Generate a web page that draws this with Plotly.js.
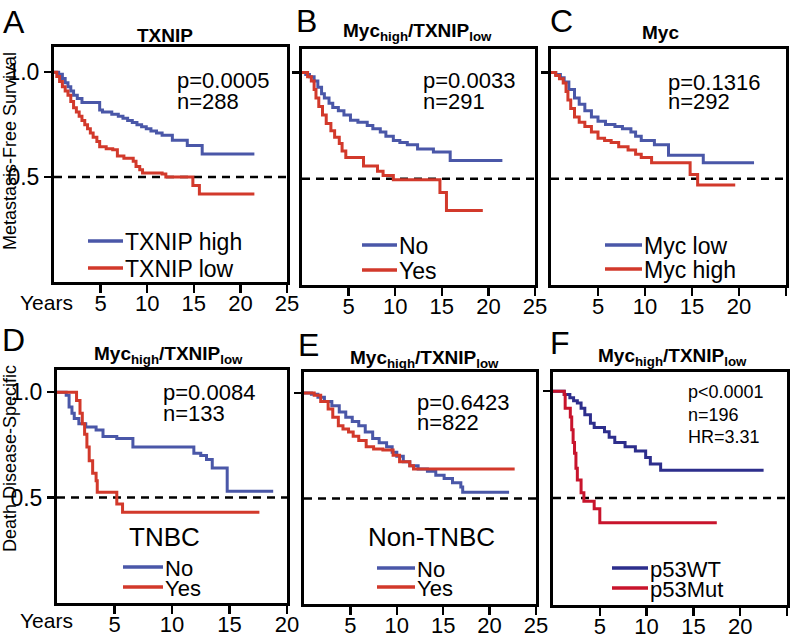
<!DOCTYPE html>
<html><head><meta charset="utf-8">
<script src="https://cdn.plot.ly/plotly-3.0.1.min.js"></script>
<style>html,body{margin:0;padding:0;background:#fff}#chart{width:796px;height:640px}</style>
</head><body><div id="chart"></div>
<script>
// ---------- DATA ----------
const ticksTo25 = [5, 10, 15, 20, 25];
const ticksTo20 = [5, 10, 15, 20];
const yTickVals = [0.5, 1.0];
const yTickText = ['0.5', '1.0'];

// A: TXNIP
const A_high_t = [0, 0.5, 0.9, 1.2, 1.5, 1.8, 2.1, 2.5, 3.0, 4.9, 5.2, 6.2, 6.9, 7.4, 7.9, 8.4, 8.9, 9.4, 9.9, 10.4, 11.0, 11.6, 12.7, 14.3, 15.9, 21.5];
const A_high_s = [1, 0.99, 0.97, 0.95, 0.93, 0.91, 0.89, 0.875, 0.855, 0.82, 0.81, 0.80, 0.79, 0.78, 0.77, 0.76, 0.75, 0.74, 0.73, 0.72, 0.71, 0.70, 0.675, 0.65, 0.61, 0.61];
const A_low_t = [0, 0.3, 0.6, 0.9, 1.2, 1.5, 1.8, 2.1, 2.4, 2.7, 3.0, 3.3, 3.6, 3.9, 4.2, 4.6, 4.9, 5.6, 6.3, 6.8, 7.5, 8.5, 8.8, 9.2, 9.5, 11.6, 12.0, 14.9, 15.6, 21.5];
const A_low_s = [1, 0.98, 0.955, 0.93, 0.91, 0.89, 0.86, 0.83, 0.81, 0.79, 0.77, 0.75, 0.73, 0.71, 0.69, 0.67, 0.645, 0.635, 0.63, 0.60, 0.59, 0.575, 0.55, 0.535, 0.52, 0.515, 0.50, 0.46, 0.42, 0.42];

// B: Myc_high/TXNIP_low
const B_no_t = [0, 0.4, 0.8, 1.3, 1.7, 2.1, 2.4, 2.9, 3.3, 3.9, 4.5, 5.2, 6.0, 7.0, 7.6, 8.4, 9.0, 9.8, 10.5, 11.3, 12.4, 14.1, 15.9, 21.5];
const B_no_s = [1, 0.99, 0.98, 0.96, 0.93, 0.90, 0.88, 0.855, 0.835, 0.82, 0.80, 0.775, 0.765, 0.75, 0.735, 0.72, 0.70, 0.68, 0.67, 0.66, 0.64, 0.625, 0.585, 0.585];
const B_yes_t = [0, 0.6, 1.0, 1.3, 1.5, 1.8, 2.2, 2.6, 3.1, 3.5, 4.0, 4.3, 4.7, 6.6, 8.1, 8.7, 9.8, 14.8, 15.5, 19.4];
const B_yes_s = [1, 0.98, 0.96, 0.92, 0.88, 0.84, 0.80, 0.76, 0.725, 0.695, 0.665, 0.63, 0.60, 0.56, 0.535, 0.515, 0.495, 0.435, 0.35, 0.35];

// C: Myc
const C_low_t = [0, 0.5, 1.0, 1.4, 1.9, 2.5, 3.0, 3.6, 4.3, 5.0, 5.8, 6.8, 7.6, 8.5, 9.0, 9.6, 11.0, 12.5, 16.2, 21.6];
const C_low_s = [1, 0.99, 0.975, 0.955, 0.92, 0.88, 0.85, 0.82, 0.79, 0.77, 0.755, 0.745, 0.735, 0.72, 0.70, 0.68, 0.66, 0.61, 0.575, 0.575];
const C_high_t = [0, 0.5, 0.9, 1.3, 1.6, 1.8, 2.1, 2.5, 3.0, 3.6, 4.3, 5.0, 5.7, 6.4, 7.2, 8.2, 9.0, 9.6, 10.7, 14.8, 15.6, 19.6];
const C_high_s = [1, 0.985, 0.97, 0.95, 0.91, 0.87, 0.83, 0.79, 0.765, 0.745, 0.72, 0.69, 0.68, 0.67, 0.65, 0.635, 0.615, 0.60, 0.575, 0.52, 0.47, 0.47];

// D: TNBC
const D_no_t = [0, 0.8, 1.05, 1.3, 1.5, 1.9, 2.5, 3.4, 4.0, 5.2, 6.6, 11.9, 12.5, 13.0, 13.5, 14.8, 18.8];
const D_no_s = [1, 0.985, 0.93, 0.90, 0.875, 0.85, 0.835, 0.82, 0.79, 0.78, 0.74, 0.71, 0.70, 0.68, 0.64, 0.53, 0.53];
const D_yes_t = [0, 1.7, 2.0, 2.2, 2.4, 2.6, 2.8, 3.1, 3.4, 3.5, 5.2, 5.7, 17.6];
const D_yes_s = [1, 0.96, 0.90, 0.85, 0.80, 0.74, 0.675, 0.615, 0.58, 0.525, 0.47, 0.43, 0.43];

// E: Non-TNBC
const E_no_t = [0, 0.8, 1.5, 2.2, 3.0, 3.8, 4.5, 5.2, 5.9, 6.6, 7.4, 8.1, 8.9, 9.5, 10.0, 10.7, 11.4, 12.3, 13.3, 14.2, 15.1, 16.0, 16.9, 17.1, 22.1];
const E_no_s = [1, 0.995, 0.98, 0.96, 0.94, 0.91, 0.885, 0.865, 0.845, 0.815, 0.785, 0.765, 0.745, 0.72, 0.70, 0.675, 0.655, 0.64, 0.63, 0.61, 0.595, 0.575, 0.555, 0.53, 0.53];
const E_yes_t = [0, 1.1, 1.8, 2.6, 3.1, 3.7, 4.2, 4.8, 5.3, 5.9, 6.7, 7.5, 8.5, 9.6, 10.3, 11.4, 11.8, 22.7];
const E_yes_s = [1, 0.99, 0.96, 0.925, 0.885, 0.845, 0.83, 0.815, 0.795, 0.775, 0.745, 0.735, 0.73, 0.705, 0.675, 0.655, 0.64, 0.64];

// F: p53
const F_wt_t = [0, 1.2, 1.8, 2.2, 2.6, 3.0, 3.4, 4.0, 4.4, 5.5, 6.0, 6.6, 7.7, 8.8, 9.9, 10.4, 11.5, 22.5];
const F_wt_s = [1, 0.985, 0.97, 0.955, 0.945, 0.92, 0.89, 0.85, 0.83, 0.81, 0.785, 0.76, 0.74, 0.72, 0.69, 0.66, 0.63, 0.63];
const F_mut_t = [0, 1.2, 1.3, 1.85, 2.0, 2.15, 2.3, 2.45, 2.6, 3.0, 3.3, 4.4, 5.0, 17.5];
const F_mut_s = [1, 0.985, 0.92, 0.88, 0.82, 0.76, 0.71, 0.64, 0.585, 0.525, 0.485, 0.45, 0.385, 0.385];

const panelLetters = ['A', 'B', 'C', 'D', 'E', 'F'];
const panelTitles = ['TXNIP', 'Myc<sub>high</sub>/TXNIP<sub>low</sub>', 'Myc',
  'Myc<sub>high</sub>/TXNIP<sub>low</sub>', 'Myc<sub>high</sub>/TXNIP<sub>low</sub>', 'Myc<sub>high</sub>/TXNIP<sub>low</sub>'];
const statTexts = [['p=0.0005', 'n=288'], ['p=0.0033', 'n=291'], ['p=0.1316', 'n=292'],
  ['p=0.0084', 'n=133'], ['p=0.6423', 'n=822'], ['p<0.0001', 'n=196', 'HR=3.31']];
const legendNames = [['TXNIP high', 'TXNIP low'], ['No', 'Yes'], ['Myc low', 'Myc high'],
  ['No', 'Yes'], ['No', 'Yes'], ['p53WT', 'p53Mut']];
const subgroupLabels = ['', '', '', 'TNBC', 'Non-TNBC', ''];
const yTitles = ['Metastasis-Free Survival', 'Death Disease-Specific'];

// ---------- LAYOUT ----------
const W = 796, H = 640;
const PX = v => v / W, PY = v => 1 - v / H;
const FONT = 'Liberation Sans, Arial, Helvetica, sans-serif';
const BLUE = '#4a57a8', RED = '#d2392b', NAVY = '#2d2e8c', CRIMSON = '#c8142c';

const series = [
  [[A_high_t, A_high_s, BLUE], [A_low_t, A_low_s, RED]],
  [[B_no_t, B_no_s, BLUE], [B_yes_t, B_yes_s, RED]],
  [[C_low_t, C_low_s, BLUE], [C_high_t, C_high_s, RED]],
  [[D_no_t, D_no_s, BLUE], [D_yes_t, D_yes_s, RED]],
  [[E_no_t, E_no_s, BLUE], [E_yes_t, E_yes_s, RED]],
  [[F_wt_t, F_wt_s, NAVY], [F_mut_t, F_mut_s, CRIMSON]]
];

// geometry per panel (pixels)
const geo = [
  {x: [54, 287], y: [47, 282], yr: [0, 1.12], xr: [0, 25], xt: ticksTo25, lab: true,
   letter: [14, 22], title: [165, 35], stat: [177, 80, 21], leg: [88, 123, 241, 268, 23]},
  {x: [302, 535], y: [49, 285], yr: [0, 1.11], xr: [0, 25], xt: ticksTo25, lab: false,
   letter: [306, 21], title: [417, 32], stat: [423, 80, 21], leg: [362, 397, 245, 270, 23]},
  {x: [551, 786], y: [49, 285], yr: [0, 1.11], xr: [0, 25], xt: ticksTo25, lab: false,
   letter: [561, 21], title: [660, 33], stat: [668, 82, 19], leg: [605, 642, 245, 269, 23]},
  {x: [57, 287], y: [370, 603], yr: [0, 1.105], xr: [0, 20], xt: ticksTo20, lab: true,
   letter: [13, 340], title: [168, 355], stat: [163, 392, 21], leg: [123, 163, 567, 587, 22], sub: [164, 537]},
  {x: [304, 536], y: [372, 604], yr: [0, 1.1], xr: [0, 25], xt: ticksTo25, lab: false,
   letter: [308, 345], title: [424, 359], stat: [417, 402, 20], leg: [377, 415, 568, 587, 22], sub: [431, 537]},
  {x: [553, 787], y: [372, 605], yr: [0, 1.09], xr: [0, 25], xt: ticksTo25, lab: false,
   letter: [560, 343], title: [672, 357], stat: [688, 392, 22.5], leg: [612, 648, 568, 588, 22], small: true}
];

const traces = [];
const layout = {
  width: W, height: H, margin: {l: 0, r: 0, t: 0, b: 0},
  paper_bgcolor: '#fff', plot_bgcolor: '#fff', showlegend: false,
  font: {family: FONT, color: '#000'},
  annotations: [], shapes: []
};

geo.forEach((g, i) => {
  const n = i === 0 ? '' : String(i + 1);
  const xa = 'x' + n, ya = 'y' + n;
  layout['xaxis' + n] = {
    domain: [PX(g.x[0]), PX(g.x[1])], range: g.xr, anchor: ya,
    showline: true, mirror: true, linewidth: 3, linecolor: '#000',
    showgrid: false, zeroline: false, ticks: 'outside', ticklen: 8, tickwidth: 2.5, tickcolor: '#000',
    ticklabelstandoff: -8,
    tickvals: g.xt, tickfont: {size: 22, family: FONT, color: '#000'}, fixedrange: true
  };
  layout['yaxis' + n] = {
    domain: [PY(g.y[1]), PY(g.y[0])], range: g.yr, anchor: xa,
    showline: true, mirror: true, linewidth: 3, linecolor: '#000',
    showgrid: false, zeroline: false, ticks: 'outside', ticklen: 7, tickwidth: 2.5, tickcolor: '#000',
    tickvals: g.lab ? yTickVals : [1.0], ticktext: g.lab ? yTickText : ['1.0'],
    showticklabels: g.lab, tickfont: {size: 23, family: FONT, color: '#000'}, fixedrange: true
  };
  series[i].forEach(s => {
    traces.push({x: s[0], y: s[1], xaxis: xa, yaxis: ya, mode: 'lines',
      line: {shape: 'hv', color: s[2], width: 3}, hoverinfo: 'skip', showlegend: false});
  });
  // dashed 0.5 reference line
  layout.shapes.push({type: 'line', xref: xa + ' domain', yref: ya, x0: 0, x1: 1, y0: 0.5, y1: 0.5,
    layer: 'below', line: {color: '#000', width: 2.5, dash: '8px,6px'}});
  // panel letter
  layout.annotations.push({xref: 'paper', yref: 'paper', x: PX(g.letter[0]), y: PY(g.letter[1]),
    text: panelLetters[i], showarrow: false, xanchor: 'center', yanchor: 'middle',
    font: {size: 32, family: FONT, color: '#000'}});
  // panel title
  layout.annotations.push({xref: 'paper', yref: 'paper', x: PX(g.title[0]), y: PY(g.title[1]),
    text: '<b>' + panelTitles[i] + '</b>', showarrow: false, xanchor: 'center', yanchor: 'middle',
    font: {size: 19, family: FONT, color: '#000'}});
  // stats
  const fs = g.small ? 18 : 22;
  statTexts[i].forEach((t, k) => {
    layout.annotations.push({xref: 'paper', yref: 'paper', x: PX(g.stat[0] - 2), y: PY(g.stat[1] + k * g.stat[2]),
      text: t, showarrow: false, xanchor: 'left', yanchor: 'middle',
      font: {size: fs, family: FONT, color: '#000'}});
  });
  // legend
  const L = g.leg;
  [0, 1].forEach(k => {
    const yy = L[2 + k];
    layout.shapes.push({type: 'line', xref: 'paper', yref: 'paper', x0: PX(L[0]), x1: PX(L[1]),
      y0: PY(yy), y1: PY(yy), line: {color: series[i][k][2], width: 3.5}});
    layout.annotations.push({xref: 'paper', yref: 'paper', x: PX(L[1]), y: PY(yy + 1),
      text: legendNames[i][k], showarrow: false, xanchor: 'left', yanchor: 'middle',
      font: {size: L[4], family: FONT, color: '#000'}});
  });
  if (g.sub) {
    layout.annotations.push({xref: 'paper', yref: 'paper', x: PX(g.sub[0]), y: PY(g.sub[1]),
      text: subgroupLabels[i], showarrow: false, xanchor: 'center', yanchor: 'middle',
      font: {size: 26, family: FONT, color: '#000'}});
  }
});

// "Years" labels
[[46, 302], [46, 620]].forEach(p => {
  layout.annotations.push({xref: 'paper', yref: 'paper', x: PX(p[0]), y: PY(p[1]), text: 'Years',
    showarrow: false, xanchor: 'center', yanchor: 'middle', font: {size: 21, family: FONT, color: '#000'}});
});
// y titles
[[10, 151], [10, 459]].forEach((p, k) => {
  layout.annotations.push({xref: 'paper', yref: 'paper', x: PX(p[0]), y: PY(p[1]), text: yTitles[k],
    showarrow: false, textangle: -90, xanchor: 'center', yanchor: 'middle',
    font: {size: 18, family: FONT, color: '#000'}});
});

Plotly.newPlot('chart', traces, layout, {displayModeBar: false, staticPlot: true});
</script>
</body></html>
